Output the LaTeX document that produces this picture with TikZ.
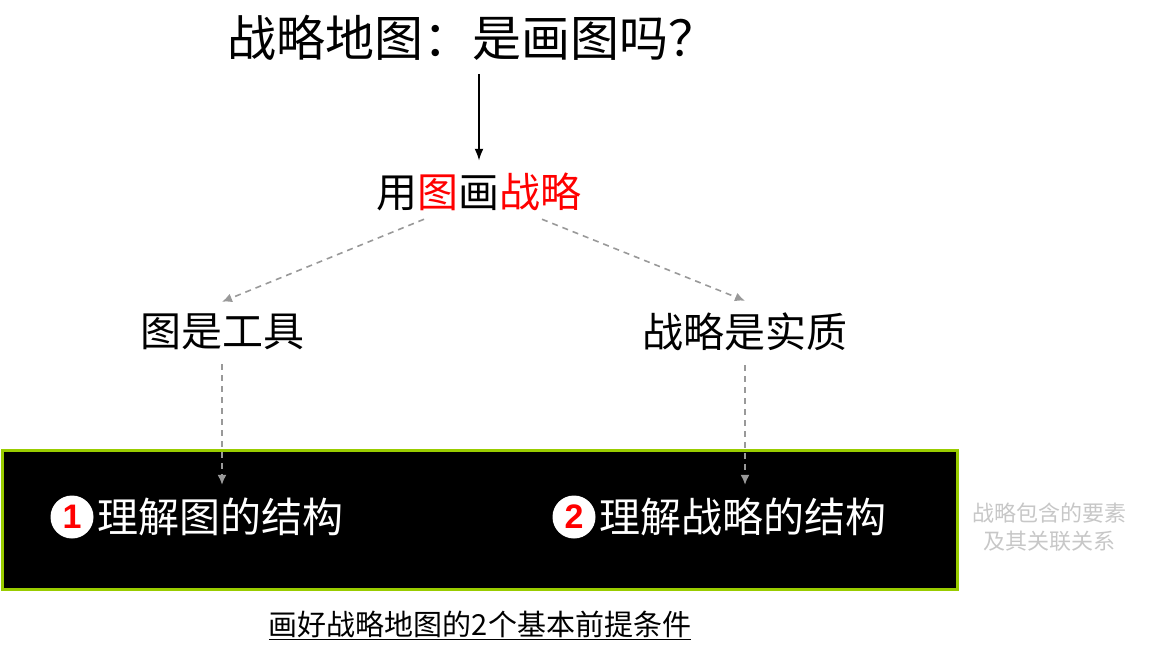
\documentclass[tikz,border=0pt]{standalone}
\usepackage{fontspec}
\setmainfont{Noto Sans CJK SC}
\newfontfamily\numfont{Liberation Sans}
\usetikzlibrary{arrows.meta,positioning}
\definecolor{framegreen}{RGB}{153,204,0}
\colorlet{dashgray}{black!40}
\colorlet{notegray}{black!22}
\tikzset{
  x=1pt,y=-1pt,
  >={Latex[length=12,width=9]}, % solid black arrow head
  title/.style={inner sep=0,font=\fontsize{49}{52}\selectfont},
  big/.style={inner sep=0,font=\fontsize{41}{45}\selectfont},
  connect/.style={->,line width=2,black},
  connect dashed/.style={-{Latex[length=10,width=9]},line width=1.6,dashgray,
                         dash pattern=on 6 off 5},
  numcircle/.style={circle,fill=white,minimum size=43,inner sep=0,
                    text=red,font=\numfont\bfseries\fontsize{34}{36}\selectfont},
  note/.style={inner sep=0,text=notegray,align=center,
               font=\fontsize{22}{28}\selectfont}
}

\begin{document}
\begin{tikzpicture}
  \useasboundingbox (0,0) rectangle (1154,651);
  % Title and question
  \node[title] (title) at (472,38) {战略地图：是画图吗？};
  \node[big] (draw) at (479,192) {用{\color{red}图}画{\color{red}战略}};
  \draw[connect] ([yshift=-13]title.south -| draw.north) -- ([yshift=12]draw.north);
  % Two sides
  \node[big] (tool) at (222,332) {图是工具};
  \node[big] (essence) at (745,332) {战略是实质};
  \draw[connect dashed] ([xshift=-55,yshift=-8]draw.south) -- ([yshift=12]tool.north);
  \draw[connect dashed] ([xshift=63,yshift=-8]draw.south) -- ([yshift=12]essence.north);
  % Black frame with the two conditions
  \node[draw=framegreen,line width=3,fill=black,minimum width=955,minimum height=139,
        inner sep=0] (frame) at (479.5,519.5) {};
  \foreach \txt/\x [count=\i] in {理解图的结构/72,理解战略的结构/574}{%
    \node[numcircle] (n\i) at (\x,517) {\i};
    \node[big,text=white,right=4 of n\i] (item\i) {\txt};
  }
  \draw[connect dashed] ([yshift=-14]tool.south) -- ([yshift=13]item1.north -| tool.south);
  \draw[connect dashed] ([yshift=-14]essence.south) -- ([yshift=13]item2.north -| essence.south);
  % Side note and caption
  \node[note] (note) at (1049,527) {战略包含的要素\\及其关联关系};
  \node[inner sep=0,font=\fontsize{29}{32}\selectfont] (caption) at (480,625)
    {\underline{画好战略地图的2个基本前提条件}};
\end{tikzpicture}
\end{document}
